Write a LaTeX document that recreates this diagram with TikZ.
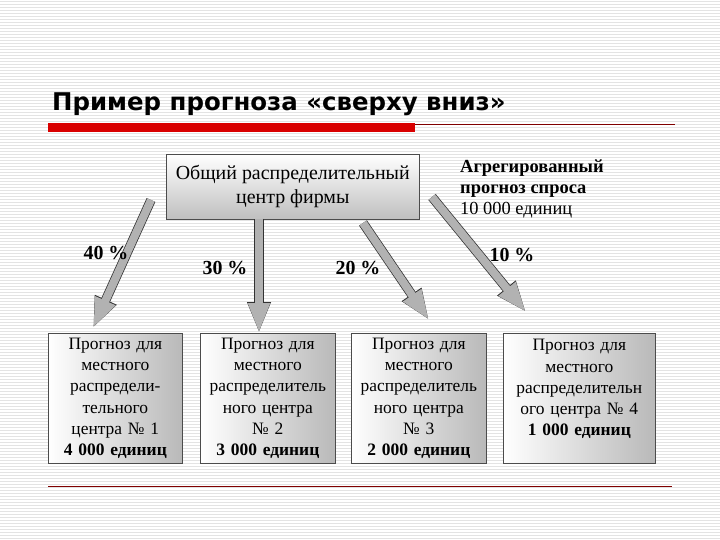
\documentclass[tikz,border=0pt]{standalone}
\usepackage{fontspec}
\setmainfont{Liberation Serif}
\newfontfamily\titlefont{DejaVu Sans}
\usetikzlibrary{arrows.meta}
\tikzset{
  lbox/.style={draw=black!70, line width=0.6bp, left color=white, right color=gray!55, minimum width=#1, minimum height=130bp, inner sep=0bp, align=center, font=\fontsize{17.5}{21.3}\selectfont, anchor=north west, text width=#1},
  bigarrow/.style={draw=gray!60, line width=8bp, -{Triangle[width=20bp,length=30bp]}, preaction={draw=gray!40!black, line width=9.5bp, -{Triangle[width=21.5bp,length=31bp]}}},
  pct/.style={font=\bfseries\fontsize{20}{22}\selectfont},
}
\begin{document}
\begin{tikzpicture}[x=1bp,y=-1bp]
\useasboundingbox (0,0) rectangle (720,540);
\fill[white] (0,0) rectangle (720,540);
\foreach \i in {0,...,179} {\draw[gray!22, line width=0.8bp] (0,3*\i+1) -- (720,3*\i+1);}
\node[anchor=base west, font=\titlefont\bfseries\fontsize{24.5}{28}\selectfont, inner sep=0] (title) at (52,111) {Пример прогноза «сверху вниз»};
\fill[red!85!black] (48,123) rectangle (415,132);
\draw[red!50!black, line width=0.8bp] (415,124) -- (675,124);
\draw[red!50!black, line width=0.8bp] (48,486) -- (672,486);
\node[draw=black!70, line width=0.6bp, top color=white, bottom color=gray!50, minimum width=253bp, minimum height=65bp, anchor=north west, align=center, inner sep=0bp, font=\fontsize{20}{24}\selectfont] (top) at (166,154) {Общий распределительный\\центр фирмы};
\node[anchor=north west, align=left, font=\fontsize{18.5}{21}\selectfont, inner sep=0] (agg) at (460,160) {\textbf{Агрегированный}\\\textbf{прогноз спроса}\\10 000 единиц};
\node[lbox=134bp] (b1) at (48,333) {Прогноз для\\местного\\распредели-\\тельного\\центра № 1\\\textbf{4 000 единиц}};
\node[lbox=135bp] (b2) at (200,333) {Прогноз для\\местного\\распределитель\\ного центра\\№ 2\\\textbf{3 000 единиц}};
\node[lbox=135bp] (b3) at (351,333) {Прогноз для\\местного\\распределитель\\ного центра\\№ 3\\\textbf{2 000 единиц}};
\node[lbox=152bp] (b4) at (503,333) {Прогноз для\\местного\\распределительн\\ого центра № 4\\\textbf{1 000 единиц}\\\phantom{x}};
\coordinate (s1) at (151,200); \coordinate (t1) at (93,328);
\coordinate (s2) at (259,219); \coordinate (t2) at (259,333);
\coordinate (s3) at (363,223); \coordinate (t3) at (429,320);
\coordinate (s4) at (432,197); \coordinate (t4) at (526,312);
\draw[bigarrow] (s1) -- (t1);
\draw[bigarrow] (s2) -- (t2);
\draw[bigarrow] (s3) -- (t3);
\draw[bigarrow] (s4) -- (t4);
\node[pct] (p1) at (106,253) {40 \%};
\node[pct] (p2) at (225,268) {30 \%};
\node[pct] (p3) at (358,268) {20 \%};
\node[pct] (p4) at (512,255) {10 \%};
\end{tikzpicture}
\end{document}
